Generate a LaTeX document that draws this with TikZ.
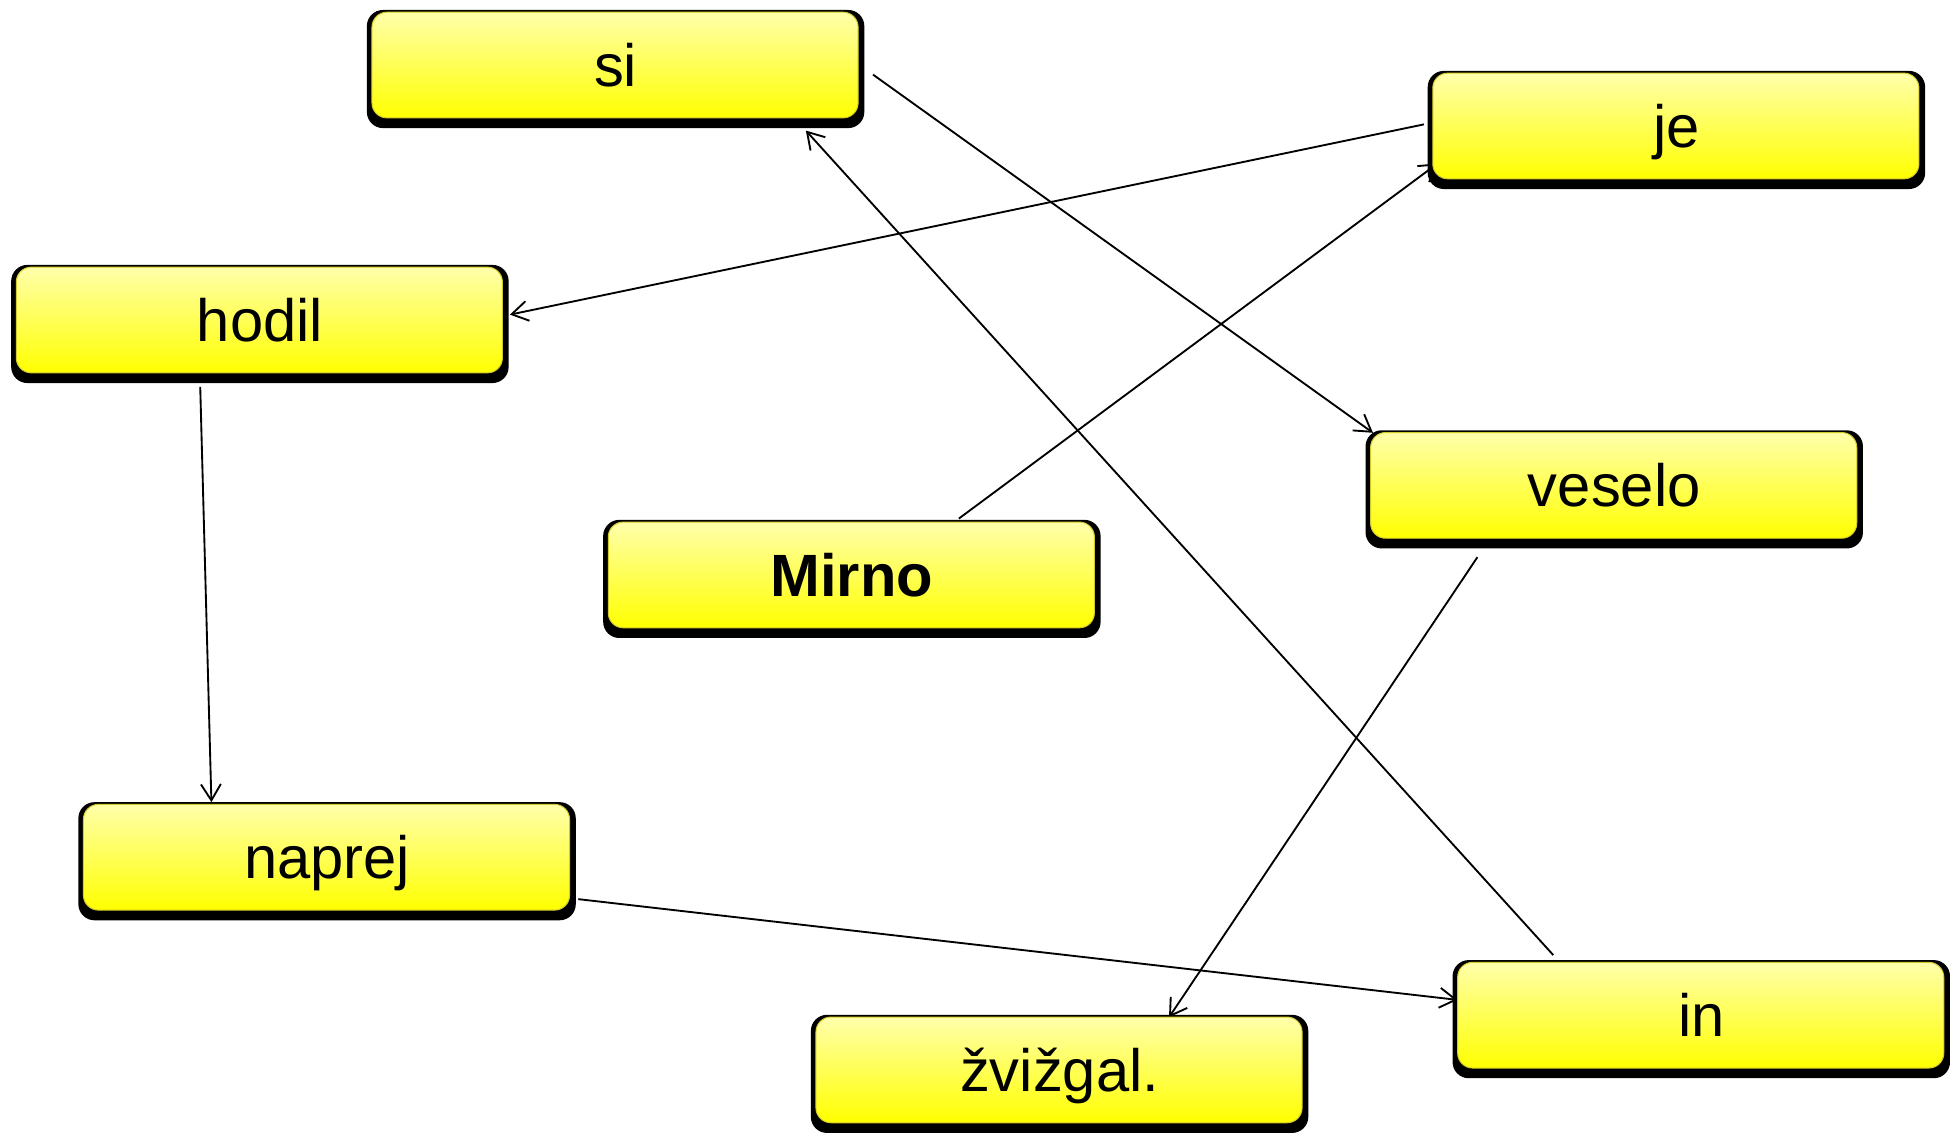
\documentclass[tikz,border=0pt]{standalone}
\usepackage{fontspec}
\setmainfont{Liberation Sans}
\usetikzlibrary{arrows.meta}
\newcommand\wordbox[4]{%
  \node[outerbox] (#1) at (#2+200,#3+47.5) {};
  \shade[innerbox] ([shift={(4.5,2.2)}]#1.north west) rectangle ([shift={(-5.4,-8.6)}]#1.south east);
  \node[lbl] (#1-t) at ([shift={(0,14)}]#1.center) {#4};
}
\begin{document}
\begin{tikzpicture}[x=0.5pt,y=-0.5pt,
  outerbox/.style={rectangle, rounded corners=6.5pt, minimum width=200pt, minimum height=47.5pt, inner sep=0pt, fill=black},
  innerbox/.style={top color=yellow!33!white, bottom color=yellow, rounded corners=6pt, draw=yellow!80!black, line width=0.4pt},
  lbl/.style={anchor=base, inner sep=0pt, font=\fontsize{24}{28}\selectfont},
  conn/.style={line width=0.75pt, -{Straight Barb[length=6.5pt,width=8pt]}}]
\useasboundingbox (0,0) rectangle (1568,911);
% connector end points
\coordinate (si-o) at (702,60);
\coordinate (ve-i) at (1104,348);
\coordinate (je-o) at (1145,100);
\coordinate (ho-i) at (410,253);
\coordinate (mi-o) at (771,417);
\coordinate (je-i) at (1156,131.4);
\coordinate (ho-o) at (161,311);
\coordinate (na-i) at (170,645);
\coordinate (na-o) at (465,723);
\coordinate (in-i) at (1172,804);
\coordinate (in-o) at (1249,768);
\coordinate (si-i) at (648,105);
\coordinate (ve-o) at (1188,448);
\coordinate (zv-i) at (940,818);
% connectors (behind the boxes)
\draw[conn] (si-o) -- (ve-i);
\draw[conn] (je-o) -- (ho-i);
\draw[conn] (mi-o) -- (je-i);
\draw[conn] (ho-o) -- (na-i);
\draw[conn] (na-o) -- (in-i);
\draw[conn] (in-o) -- (si-i);
\draw[conn] (ve-o) -- (zv-i);
% boxes
\wordbox{si}{295}{8}{si}
\wordbox{je}{1148}{57}{je}
\wordbox{hodil}{9}{213}{hodil}
\wordbox{veselo}{1098}{346}{veselo}
\wordbox{mirno}{485}{418}{\textbf{Mirno}}
\wordbox{naprej}{63}{645}{naprej}
\wordbox{in}{1168}{772}{in}
\wordbox{zvizgal}{652}{816}{žvižgal.}
\end{tikzpicture}
\end{document}
